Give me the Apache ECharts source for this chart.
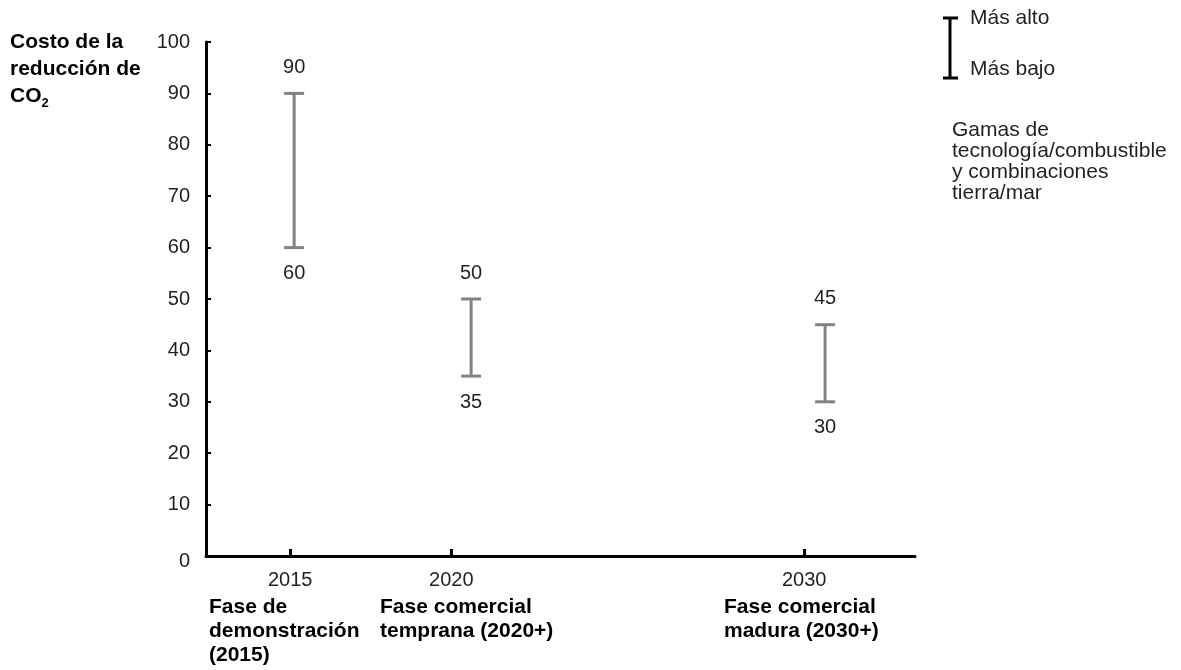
<!DOCTYPE html>
<html>
<head>
<meta charset="utf-8">
<title>Costo de la reducción de CO2</title>
<script src="https://cdn.jsdelivr.net/npm/echarts@6/dist/echarts.min.js"></script>
<style>
  html, body { margin: 0; padding: 0; background: #fff; }
  #chart { width: 1181px; height: 670px; }
</style>
</head>
<body>
<div id="chart"></div>
<script>
// datos del gráfico
const years = [2015, 2020, 2030];
const lowCost = [60, 35, 30];
const highCost = [90, 50, 45];
// en el original las marcas del eje X no caen justo sobre las barras
const tickPos = [2014.89, 2019.44, 2029.41];
const tickLabels = ['2015', '2020', '2030'];
const phaseLabels = [
  'Fase de\ndemonstración\n(2015)',
  'Fase comercial\ntemprana (2020+)',
  'Fase comercial\nmadura (2030+)'
];
const yTicks = [0, 10, 20, 30, 40, 50, 60, 70, 80, 90, 100];

const FONT = '"Liberation Sans", Arial, sans-serif';
const TXT = '#231f20';
const BAR = '#808285';

const chart = echarts.init(document.getElementById('chart'));

// barras de rango: [año, bajo, alto]
const rangeData = years.map((y, i) => [y, lowCost[i], highCost[i]]);

function renderRange (params, api) {
  const x = api.value(0);
  const lo = api.coord([x, api.value(1)]);
  const hi = api.coord([x, api.value(2)]);
  const cap = 10;
  const lineStyle = { stroke: BAR, lineWidth: 3 };
  return {
    type: 'group',
    children: [
      { type: 'line', shape: { x1: hi[0], y1: hi[1], x2: lo[0], y2: lo[1] }, style: lineStyle },
      { type: 'line', shape: { x1: hi[0] - cap, y1: hi[1], x2: hi[0] + cap, y2: hi[1] }, style: lineStyle },
      { type: 'line', shape: { x1: lo[0] - cap, y1: lo[1], x2: lo[0] + cap, y2: lo[1] }, style: lineStyle },
      {
        type: 'text',
        style: { text: String(api.value(2)), x: hi[0], y: hi[1] - 26, align: 'center', verticalAlign: 'middle', font: '20px ' + FONT, fill: TXT }
      },
      {
        type: 'text',
        style: { text: String(api.value(1)), x: lo[0], y: lo[1] + 26, align: 'center', verticalAlign: 'middle', font: '20px ' + FONT, fill: TXT }
      }
    ]
  };
}

// textos de las fases bajo el eje X
const phaseLeft = [209, 380, 724];
const phaseGraphics = phaseLabels.map((t, i) => ({
  type: 'text',
  x: phaseLeft[i],
  y: 595,
  style: { text: t, font: 'bold 21px ' + FONT, fill: '#000', lineHeight: 24, verticalAlign: 'top' }
}));

const option = {
  animation: false,
  backgroundColor: '#fff',
  grid: { left: 206, right: 266, top: 42, bottom: 114 },
  xAxis: {
    type: 'value',
    min: 2012.51,
    max: 2032.54,
    splitLine: { show: false },
    axisLine: { lineStyle: { color: '#000', width: 3 } },
    axisTick: { inside: true, length: 7, lineStyle: { color: '#000', width: 3 }, customValues: tickPos },
    axisLabel: {
      customValues: tickPos,
      margin: 14,
      fontSize: 20,
      lineHeight: 20,
      color: TXT,
      fontFamily: FONT,
      formatter: (v) => {
        const i = tickPos.indexOf(v);
        return i < 0 ? '' : tickLabels[i];
      }
    }
  },
  yAxis: {
    type: 'value',
    min: 0,
    max: 100,
    interval: 10,
    splitLine: { show: false },
    axisLine: { show: true, lineStyle: { color: '#000', width: 3 } },
    axisTick: { show: true, inside: true, length: 5, lineStyle: { color: '#000', width: 2 } },
    axisLabel: {
      margin: 16,
      fontSize: 20,
      fontFamily: FONT,
      color: TXT,
      customValues: yTicks,
      formatter: (v) => (v === 0 ? '{z|0}' : String(v)),
      rich: { z: { fontSize: 20, fontFamily: FONT, color: TXT, padding: [10, 0, 0, 0] } }
    }
  },
  graphic: [
    // título del eje vertical
    {
      type: 'text',
      left: 10,
      top: 32,
      style: {
        text: '{b|Costo de la}\n{b|reducción de}\n{b|CO}{s|2}',
        rich: {
          b: { fontSize: 21, fontWeight: 'bold', fontFamily: FONT, fill: '#000', lineHeight: 27 },
          s: { fontSize: 13, fontWeight: 'bold', fontFamily: FONT, fill: '#000', lineHeight: 13, verticalAlign: 'bottom' }
        }
      }
    },
    // leyenda
    { type: 'line', shape: { x1: 950, y1: 18, x2: 950, y2: 78 }, style: { stroke: '#000', lineWidth: 3 } },
    { type: 'line', shape: { x1: 943, y1: 18, x2: 958, y2: 18 }, style: { stroke: '#000', lineWidth: 3 } },
    { type: 'line', shape: { x1: 943, y1: 78, x2: 958, y2: 78 }, style: { stroke: '#000', lineWidth: 3 } },
    { type: 'text', x: 970, y: 18, style: { text: 'Más alto', font: '21px ' + FONT, fill: TXT, verticalAlign: 'middle' } },
    { type: 'text', x: 970, y: 69, style: { text: 'Más bajo', font: '21px ' + FONT, fill: TXT, verticalAlign: 'middle' } },
    {
      type: 'text',
      x: 952,
      y: 120,
      style: {
        text: 'Gamas de\ntecnología/combustible\ny combinaciones\ntierra/mar',
        font: '21px ' + FONT,
        fill: TXT,
        lineHeight: 21,
        verticalAlign: 'top'
      }
    }
  ].concat(phaseGraphics),
  series: [
    {
      type: 'custom',
      renderItem: renderRange,
      encode: { x: 0, y: [1, 2] },
      data: rangeData
    }
  ]
};

chart.setOption(option);
</script>
</body>
</html>
